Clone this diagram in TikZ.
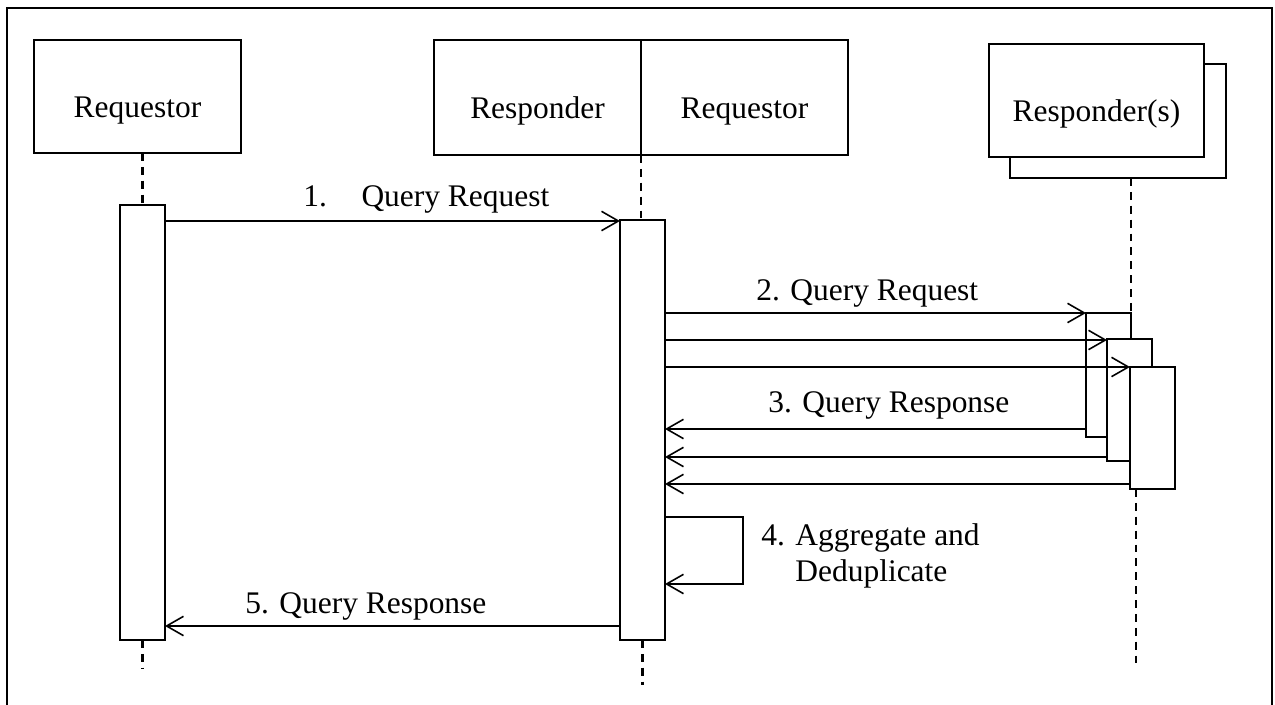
\documentclass[tikz,border=0pt]{standalone}
\usepackage{fontspec}
\setmainfont{Liberation Serif}
\usepackage{tikz}
\usetikzlibrary{arrows.meta}

\tikzset{
    actor/.style={draw, fill=white, line width=0.9pt, inner sep=0pt, outer sep=0pt,
        text height=24pt, text depth=0pt},
    actbar/.style={draw, fill=white, line width=0.9pt, inner sep=0pt, outer sep=0pt,
        minimum width=0.9cm},
    life/.style={line width=1.2pt, dash pattern=on 4.5pt off 3.4pt},
    msg/.style={line width=0.9pt, -{Straight Barb[length=9.6pt,width=11pt]}},
    lbl/.style={inner sep=0pt, anchor=base west}
}

\begin{document}
\begin{tikzpicture}[x=0.02cm,y=-0.02cm,font=\fontsize{17.9}{20.4}\selectfont]
        \useasboundingbox (0,0) rectangle (1275,705);
        % frame
        \draw[line width=1.4pt] (7,705) -- (7,8) -- (1272,8) -- (1272,705);

        % heads
        \node[actor, minimum width=4.14cm, minimum height=2.26cm] (req) at (137.5,96.5) {Requestor};
        \node[actor, minimum width=4.14cm, minimum height=2.3cm] (mrsp) at (537.5,97.5) {Responder};
        \node[actor, minimum width=4.14cm, minimum height=2.3cm] (mreq) at (744.5,97.5) {Requestor};
        \node[actor, minimum width=4.32cm, minimum height=2.28cm] (rspback) at (1118,121) {};
        \node[actor, minimum width=4.3cm, minimum height=2.26cm] (rsp) at (1096.5,100.5) {Responder(s)};

        % activation bars
        \node[actbar, minimum height=8.7cm] (reqbar) at (142.5,422.5) {};
        \node[actbar, minimum height=8.4cm] (midbar) at (642.5,430) {};
        \node[actbar, minimum height=2.48cm] (rbara) at (1108.5,375) {};
        \node[actbar, minimum height=2.44cm] (rbarb) at (1129.5,400) {};
        \node[actbar, minimum height=2.44cm] (rbarc) at (1152.5,428) {};

        % lifelines
        \coordinate (reqend) at (142.5,668);
        \coordinate (midend) at (642.5,685);
        \coordinate (rspend) at (1136,665);
        \draw[life] (req.south -| reqbar.north) -- (reqbar.north);
        \draw[life] (reqbar.south) -- (reqend);
        \draw[life] (mrsp.south east) -- (midbar.north -| mrsp.south east);
        \draw[life] (midbar.south) -- (midend);
        \draw[life] (rspback.south -| rbara.north east) -- (rbara.north east);
        \draw[life] (rbarc.south -| rspend) -- (rspend);

        % messages
        \draw[msg] (reqbar.east |- 0,221) -- (midbar.west |- 0,221);
        \node[lbl] (l1) at (303,207) {1.\hspace{1.1em}Query Request};

        \draw[msg] (midbar.east |- 0,313) -- (rbara.west |- 0,313);
        \draw[msg] (midbar.east |- 0,340) -- (rbarb.west |- 0,340);
        \draw[msg] (midbar.east |- 0,367) -- (rbarc.west |- 0,367);
        \node[lbl] (l2) at (756,301) {2. Query Request};

        \draw[msg] (rbara.west |- 0,429) -- (midbar.east |- 0,429);
        \draw[msg] (rbarb.west |- 0,457) -- (midbar.east |- 0,457);
        \draw[msg] (rbarc.west |- 0,484) -- (midbar.east |- 0,484);
        \node[lbl] (l3) at (768,413) {3. Query Response};

        \draw[msg] (midbar.east |- 0,517) -- ++(78,0) |- (midbar.east |- 0,584);
        \node[lbl] (l4) at (761,546) {\begin{tabular}[t]{@{}l@{ }l@{}}4.&Aggregate and\\ &Deduplicate\end{tabular}};

        \draw[msg] (midbar.west |- 0,626) -- (reqbar.east |- 0,626);
        \node[lbl] (l5) at (245,614) {5. Query Response};
    \end{tikzpicture}
\end{document}
